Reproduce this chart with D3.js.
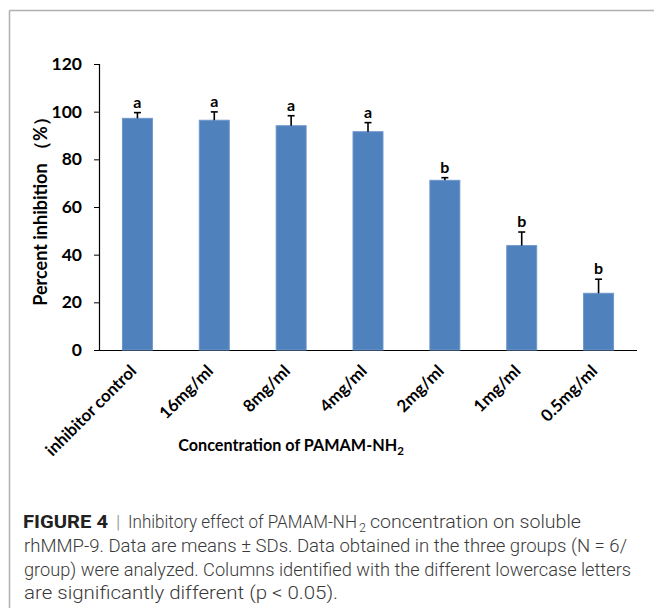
<!DOCTYPE html>
<html><head><meta charset="utf-8">
<script src="https://cdn.jsdelivr.net/npm/d3@7"></script>
<style>body{margin:0;background:#fff;} svg{display:block;}</style>
</head><body>
<svg id="c" width="654" height="608"></svg>
<script>
const categories = ["inhibitor control","16mg/ml","8mg/ml","4mg/ml","2mg/ml","1mg/ml","0.5mg/ml"];
const means = [97.2, 96.4, 94.1, 91.6, 71.2, 43.8, 23.8];
const sds = [2.4, 3.5, 4.2, 3.8, 1.1, 5.7, 5.9];
const letters = ["a","a","a","a","b","b","b"];
const yTicks = [0,20,40,60,80,100,120];

const svg = d3.select("#c");
const chartFont = "Lato, 'Open Sans', sans-serif";

// frame lines
svg.append("line").attr("x1",9.5).attr("x2",654).attr("y1",10.5).attr("y2",10.5).attr("stroke","#b0b0b0").attr("stroke-width",1.5);
svg.append("line").attr("x1",9.5).attr("x2",9.5).attr("y1",10.5).attr("y2",608).attr("stroke","#b0b0b0").attr("stroke-width",1.5);

const x = d3.scaleBand().domain(categories).range([99, 637]).paddingInner(0.61).paddingOuter(0.305);
const y = d3.scaleLinear().domain([0,120]).range([350, 64]);

// y axis
const yAxis = svg.append("g").attr("transform","translate(99,0)")
  .call(d3.axisLeft(y).tickValues(yTicks).tickSize(5).tickPadding(12));
yAxis.select(".domain").attr("stroke","#000").attr("stroke-width",1.2).attr("d","M-5,64.5H0.5V350.5");
yAxis.selectAll(".tick line").attr("stroke","#000");
yAxis.selectAll(".tick text").attr("font-family",chartFont).attr("font-weight","bold").attr("font-size",17.5).attr("fill","#000");

// x axis line
svg.append("line").attr("x1",99).attr("x2",637).attr("y1",350.5).attr("y2",350.5).attr("stroke","#000").attr("stroke-width",1.2);

// bars
svg.append("g").selectAll("rect").data(categories).join("rect")
  .attr("x", d => x(d)).attr("width", x.bandwidth())
  .attr("y", (d,i) => y(means[i])).attr("height", (d,i) => y(0) - y(means[i]))
  .attr("fill","#4f81bd").attr("stroke","#6f97cb").attr("stroke-width",1);

// error bars
const eb = svg.append("g").attr("stroke","#000").attr("stroke-width",1.6);
categories.forEach((c,i) => {
  const cx = x(c) + x.bandwidth()/2;
  eb.append("line").attr("x1",cx).attr("x2",cx).attr("y1",y(means[i])).attr("y2",y(means[i]+sds[i]));
  eb.append("line").attr("x1",cx-3.5).attr("x2",cx+3.5).attr("y1",y(means[i]+sds[i])).attr("y2",y(means[i]+sds[i]));
});

// letters
svg.append("g").selectAll("text").data(categories).join("text")
  .attr("x", d => x(d) + x.bandwidth()/2)
  .attr("y", (d,i) => y(means[i]+sds[i]) - 5)
  .attr("text-anchor","middle").attr("font-family",chartFont).attr("font-weight","bold").attr("font-size",16)
  .text((d,i) => letters[i]);

// x labels
svg.append("g").selectAll("text").data(categories).join("text")
  .attr("transform", d => `translate(${x(d)+x.bandwidth()/2},372) rotate(-45)`)
  .attr("text-anchor","end").attr("font-family",chartFont).attr("font-weight","bold").attr("font-size",16.8)
  .text(d => d);

// x title
const xt = svg.append("text").attr("x",291).attr("y",451).attr("text-anchor","middle")
  .attr("font-family",chartFont).attr("font-weight","bold").attr("font-size",16.2);
xt.append("tspan").text("Concentration of PAMAM-NH");
xt.append("tspan").attr("font-size",11.5).attr("dy",4).text("2");

// y title
svg.append("text").attr("transform","translate(47,207) rotate(-90)").attr("text-anchor","middle")
  .attr("font-family",chartFont).attr("font-weight","bold").attr("font-size",18)
  .text("Percent inhibition （%）");

// caption
const capFont = "Roboto, 'Liberation Sans', sans-serif";
const cap = svg.append("g").attr("font-family",capFont).attr("font-size",19).attr("fill","#3a3a3a").attr("font-weight",300);
cap.append("text").attr("x",23).attr("y",528).attr("font-weight","bold").attr("fill","#222")
  .attr("textLength",85).attr("lengthAdjust","spacingAndGlyphs").text("FIGURE 4");
cap.append("text").attr("x",116).attr("y",528).attr("fill","#888").text("|");
cap.append("text").attr("x",128).attr("y",528).attr("textLength",229).attr("lengthAdjust","spacingAndGlyphs")
  .text("Inhibitory effect of PAMAM-NH");
cap.append("text").attr("x",359).attr("y",532).attr("font-size",12.5).text("2");
cap.append("text").attr("x",370).attr("y",528).attr("textLength",211).attr("lengthAdjust","spacingAndGlyphs")
  .text("concentration on soluble");
cap.append("text").attr("x",24).attr("y",552).attr("textLength",603).attr("lengthAdjust","spacingAndGlyphs")
  .text("rhMMP-9. Data are means ± SDs. Data obtained in the three groups (N = 6/");
cap.append("text").attr("x",24).attr("y",576).attr("textLength",607).attr("lengthAdjust","spacingAndGlyphs")
  .text("group) were analyzed. Columns identified with the different lowercase letters");
cap.append("text").attr("x",24).attr("y",599).attr("textLength",314).attr("lengthAdjust","spacingAndGlyphs")
  .text("are significantly different (p < 0.05).");
</script>
</body></html>
